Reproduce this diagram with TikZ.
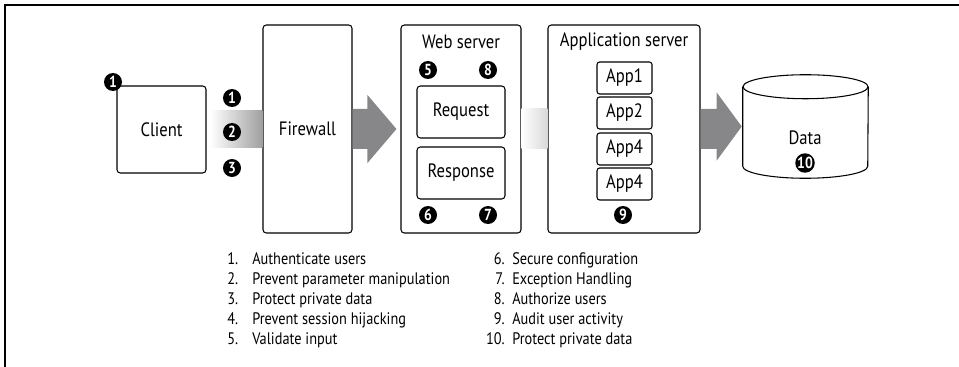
\documentclass[tikz,border=0pt]{standalone}
\usepackage{fontspec}
\setmainfont{PT Sans}[FakeStretch=0.86]
\usetikzlibrary{calc}
\definecolor{arrowgray}{RGB}{135,135,138}
\begin{document}
\begin{tikzpicture}[x=0.75pt,y=-0.75pt,
    box/.style={draw,rounded corners=2.5pt,line width=0.8pt,inner sep=0pt,font=\fontsize{14.5}{16}\selectfont},
    appbox/.style={draw,rounded corners=2pt,line width=0.8pt,inner sep=0pt,minimum width=41.25pt,minimum height=24pt,font=\fontsize{14.5}{16}\selectfont},
    title/.style={inner sep=0pt,font=\fontsize{14.5}{16}\selectfont},
    badge/.style={circle,fill=black,text=white,inner sep=0pt,minimum size=13.5pt,font=\bfseries\fontsize{12}{12}\selectfont},
    num/.style={anchor=base west,inner sep=0pt,font=\fontsize{12.5}{14}\selectfont},
    rnum/.style={anchor=base east,inner sep=0pt,font=\fontsize{12.5}{14}\selectfont},
    item/.style={anchor=base west,inner sep=0pt,font=\fontsize{12.5}{14}\selectfont},
    bigarrow/.style={fill=arrowgray}]
    \useasboundingbox (0,0) rectangle (959,367);

    % Draw frame
    \draw[line width=1.1pt] (959,5) -- (5,5) -- (5,367);

    % Client and firewall
    \node[box,minimum width=66.75pt,minimum height=65.25pt] (client) at (161.5,129.5) {Client};
    \node[box,minimum width=66.75pt,minimum height=156pt] (fw) at (307.5,129) {Firewall};
    \shade[left color=white,right color=gray!75] ([xshift=3pt,yshift=14pt]client.east) rectangle ([yshift=-14pt]fw.west);

    \node[badge] (c1) at (113,82) {1};
    \node[badge] (b1) at (232,98) {1};
    \node[badge] (b2) at (232,132) {2};
    \node[badge] (b3) at (232,168) {3};

    % Web server
    \node[box,minimum width=90pt,minimum height=156pt] (ws) at (461,129) {};
    \node[title] (wstitle) at (461,42) {Web server};
    \node[box,minimum width=66pt,minimum height=39pt] (req) at (461,112) {Request};
    \node[box,minimum width=66pt,minimum height=39pt] (resp) at (461,173) {Response};
    \node[badge] (b5) at (428,70) {5};
    \node[badge] (b8) at (488,70) {8};
    \node[badge] (b6) at (428,215) {6};
    \node[badge] (b7) at (488,215) {7};

    \fill[bigarrow] ($(fw.east)+(0,-20)$) -| ($(ws.west)+(-33,-34)$) -- ($(ws.west)+(-4,0)$)
        -- ($(ws.west)+(-33,34)$) |- ($(fw.east)+(0,20)$) -- cycle;

    % Application server
    \node[box,minimum width=114pt,minimum height=156pt] (as) at (624,129) {};
    \node[title] (astitle) at (624,42) {Application server};
    \node[appbox] (app1) at (624.5,78) {App1};
    \node[appbox] (app2) at (624.5,113) {App2};
    \node[appbox] (app3) at (624.5,149) {App4};
    \node[appbox] (app4) at (624.5,184) {App4};
    \node[badge] (b9) at (623,215) {9};
    \shade[left color=white,right color=gray!30] ([yshift=15pt]ws.east) rectangle ([yshift=-15pt]as.west);

    % Data
    \node[minimum width=93.75pt,minimum height=77.25pt,inner sep=0pt] (data) at (805.5,126.5) {};
    \draw[line width=0.8pt] ($(data.north)+(0,12)$) ellipse [x radius=62.5,y radius=12];
    \draw[line width=0.8pt] ($(data.north west)+(0,12)$) -- ($(data.south west)+(0,-12)$)
        arc [start angle=180,end angle=0,x radius=62.5,y radius=12] -- ($(data.north east)+(0,12)$);
    \node[title] (datalbl) at (805,138) {Data};
    \node[badge] (b10) at (805,163) {10};

    \fill[bigarrow] ($(as.east)+(0,-20)$) -| ($(data.west)+(-26,-34)$) -- ($(data.west)+(-1,0)$)
        -- ($(data.west)+(-26,34)$) |- ($(as.east)+(0,20)$) -- cycle;

    % Legend
    \node[num] (n1) at (227,264) {1.};
    \node[item] (i1) at (252,264) {Authenticate users};
    \node[num] (n2) at (227,284) {2.};
    \node[item] (i2) at (252,284) {Prevent parameter manipulation};
    \node[num] (n3) at (227,304) {3.};
    \node[item] (i3) at (252,304) {Protect private data};
    \node[num] (n4) at (227,324) {4.};
    \node[item] (i4) at (252,324) {Prevent session hijacking};
    \node[num] (n5) at (227,344) {5.};
    \node[item] (i5) at (252,344) {Validate input};

    \node[rnum] (n6) at (505,264) {6.};
    \node[item] (i6) at (512,264) {Secure configuration};
    \node[rnum] (n7) at (505,284) {7.};
    \node[item] (i7) at (512,284) {Exception Handling};
    \node[rnum] (n8) at (505,304) {8.};
    \node[item] (i8) at (512,304) {Authorize users};
    \node[rnum] (n9) at (505,324) {9.};
    \node[item] (i9) at (512,324) {Audit user activity};
    \node[rnum] (n10) at (505,344) {10.};
    \node[item] (i10) at (512,344) {Protect private data};
\end{tikzpicture}
\end{document}
